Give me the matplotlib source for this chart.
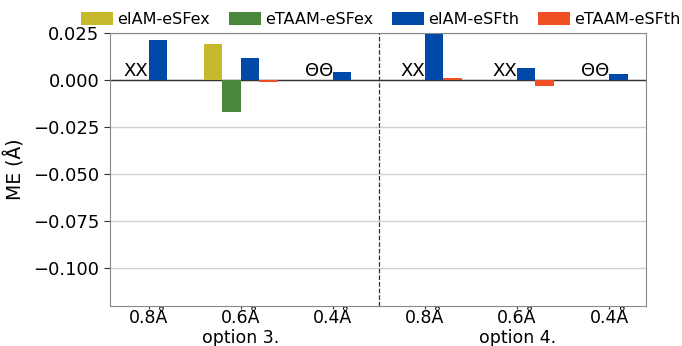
import numpy as np
import matplotlib
matplotlib.use("Agg")
import matplotlib.pyplot as plt
import matplotlib.transforms as mtransforms

nan = np.nan
res_labels = ["0.8Å", "0.6Å", "0.4Å", "0.8Å", "0.6Å", "0.4Å"]
option_labels = ["option 3.", "option 4."]
series_names = ["eIAM-eSFex", "eTAAM-eSFex", "eIAM-eSFth", "eTAAM-eSFth"]
eIAM_eSFex = [nan, 0.0193, nan, nan, nan, nan]
eTAAM_eSFex = [nan, -0.0167, nan, nan, nan, nan]
eIAM_eSFth = [0.0214, 0.0115, 0.0043, 0.0245, 0.0064, 0.0031]
eTAAM_eSFth = [nan, -0.0008, nan, 0.0012, -0.0029, nan]
missing_marks = ["XX", "", "ΘΘ", "XX", "XX", "ΘΘ"]

colors = ["#c8b82f", "#4a873a", "#0049a8", "#f04e23"]

fig = plt.figure(figsize=(6.82, 3.46), dpi=100)
ax = fig.add_axes([110/682, 1-306/346, (646-110)/682, (306-33)/346])

x = np.arange(len(res_labels))
w = 0.2
offsets = [-1.5*w, -0.5*w, 0.5*w, 1.5*w]
all_series = [eIAM_eSFex, eTAAM_eSFex, eIAM_eSFth, eTAAM_eSFth]
for vals, off, c, name in zip(all_series, offsets, colors, series_names):
    ax.bar(x + off, vals, width=w, color=c, label=name, zorder=3)

for xi, m in zip(x, missing_marks):
    if m:
        ax.text(xi, 0, m, ha="right", va="bottom", fontsize=13, zorder=4)

ax.axhline(0, color="#333333", lw=1, zorder=2)
ax.axvline(2.5, color="#333333", lw=0.9, ls="--", zorder=2)
ax.set_xlim(-0.42, 5.4)
ax.set_ylim(-0.12, 0.025)
ax.set_yticks([0.025, 0.0, -0.025, -0.05, -0.075, -0.1])
ax.set_xticks(x)
ax.set_xticklabels(res_labels, fontsize=12.5)
ax.tick_params(axis="y", labelsize=13, colors="#333333", labelcolor="black", length=4)
ax.tick_params(axis="x", colors="#333333", labelcolor="black", length=2, pad=0.5)
ax.grid(axis="y", color="#d0d0d0", lw=1, zorder=0)
for s in ax.spines.values():
    s.set_color("#888888")
ax.set_ylabel("ME (Å)", fontsize=13.5)
ax.yaxis.set_label_coords(-0.157, 0.5)

trans = mtransforms.blended_transform_factory(ax.transData, ax.transAxes)
ax.text(1, -0.083, option_labels[0], transform=trans, ha="center", va="top", fontsize=12.5)
ax.text(4, -0.083, option_labels[1], transform=trans, ha="center", va="top", fontsize=12.5)

fig.legend(loc="upper left", bbox_to_anchor=(73/682, 1 - 4/346), ncol=4, frameon=False,
           fontsize=11.5, handlelength=2.0, handleheight=0.9, columnspacing=1.2,
           handletextpad=0.25, borderaxespad=0.1)

fig.savefig("out.png", dpi=100)
